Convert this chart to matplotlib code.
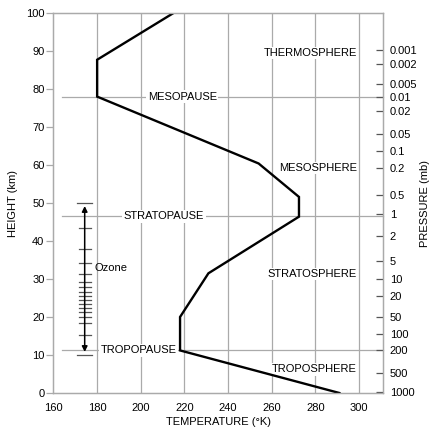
import matplotlib
matplotlib.use("Agg")
import matplotlib.pyplot as plt

plt.rcParams['font.family'] = ['Liberation Sans', 'DejaVu Sans']

# temperature profile (K) against height (km)
temps = [291, 218, 218, 231, 272.5, 272.5, 254, 180, 180, 215]
heights = [0, 11.2, 20, 31.5, 46.4, 51.6, 60.4, 78, 87.7, 100]

# pressure scale on the right (mb) and the heights where they sit
pressure_labels = ['0.001', '0.002', '0.005', '0.01', '0.02', '0.05', '0.1', '0.2',
                   '0.5', '1', '2', '5', '10', '20', '50', '100', '200', '500', '1000']
pressure_heights = [90.3, 86.5, 81.4, 78, 74.3, 68.1, 63.7, 59.1,
                    52.2, 47.2, 41.3, 34.8, 30.1, 25.5, 20, 15.6, 11.2, 5.3, 0.3]

# boundaries: name, height, label centre temperature
pauses = [('MESOPAUSE', 78, 219), ('STRATOPAUSE', 46.5, 210.5), ('TROPOPAUSE', 11.2, 199)]
# layers: name, height
layers = [('THERMOSPHERE', 89.4), ('MESOSPHERE', 59.3), ('STRATOSPHERE', 31.4), ('TROPOSPHERE', 6.2)]

# ozone band
ozone_top, ozone_bottom = 50, 10
ozone_ticks = [43.3, 38, 34.1, 31.3, 29.1, 27.8, 26.6, 25.5, 24.5, 23.4,
               22.3, 21.2, 20, 18.4, 15.2]

grid_col = '#aaaaaa'
fs = 8

fig = plt.figure(figsize=(4.37, 4.28), dpi=100)
ax = fig.add_axes([0.1224, 0.0818, 0.754, 0.8878])
ax.set_xlim(160, 311)
ax.set_ylim(0, 100)

for t in range(180, 301, 20):
    ax.axvline(t, color=grid_col, lw=0.9, zorder=1)

for name, h, tc in pauses:
    ax.plot([164, 311], [h, h], color=grid_col, lw=0.9, zorder=1, clip_on=False)
    ax.text(tc, h, name, ha='center', va='center', fontsize=fs, zorder=3,
            bbox=dict(facecolor='white', edgecolor='none', pad=1.2))

for name, h in layers:
    ax.text(299, h, name, ha='right', va='center', fontsize=fs, zorder=3,
            bbox=dict(facecolor='white', edgecolor='none', pad=0.8))

ax.plot(temps, heights, color='black', lw=1.7, zorder=4, solid_joinstyle='miter')

# ozone arrow
x_oz = 174.3
ax.annotate('', xy=(x_oz, ozone_top - 0.8), xytext=(x_oz, ozone_bottom + 0.8),
            arrowprops=dict(arrowstyle='<|-|>', color='black', lw=1.1,
                            mutation_scale=8, shrinkA=0, shrinkB=0), zorder=4)
for h in [ozone_top, ozone_bottom]:
    ax.plot([x_oz - 3.3, x_oz + 3.3], [h, h], color='#555555', lw=0.9, zorder=3)
for h in ozone_ticks:
    ax.plot([x_oz - 2.7, x_oz + 2.7], [h, h], color='#555555', lw=0.9, zorder=3)
ax.text(179, 32.8, 'Ozone', ha='left', va='center', fontsize=fs)

ax.set_xticks(range(160, 301, 20))
ax.set_yticks(range(0, 101, 10))
ax.tick_params(axis='x', length=0, pad=7, labelsize=fs)
ax.tick_params(axis='y', length=5, width=0.9, color=grid_col, pad=1.5, labelsize=fs)
for s in ax.spines.values():
    s.set_color(grid_col)
    s.set_linewidth(0.9)

ax.set_xlabel('TEMPERATURE (°K)', fontsize=fs, labelpad=3)
ax.set_ylabel('HEIGHT (km)', fontsize=fs, labelpad=6)

ax2 = ax.twinx()
ax2.set_ylim(0, 100)
ax2.set_yticks(pressure_heights)
ax2.set_yticklabels(pressure_labels)
ax2.tick_params(axis='y', direction='in', length=5, width=0.9, color='#555555',
                pad=5, labelsize=fs)
for s in ax2.spines.values():
    s.set_color(grid_col)
    s.set_linewidth(0.9)
ax2.set_ylabel('PRESSURE (mb)', fontsize=fs, rotation=90, labelpad=2)

fig.savefig('out.png', dpi=100)
